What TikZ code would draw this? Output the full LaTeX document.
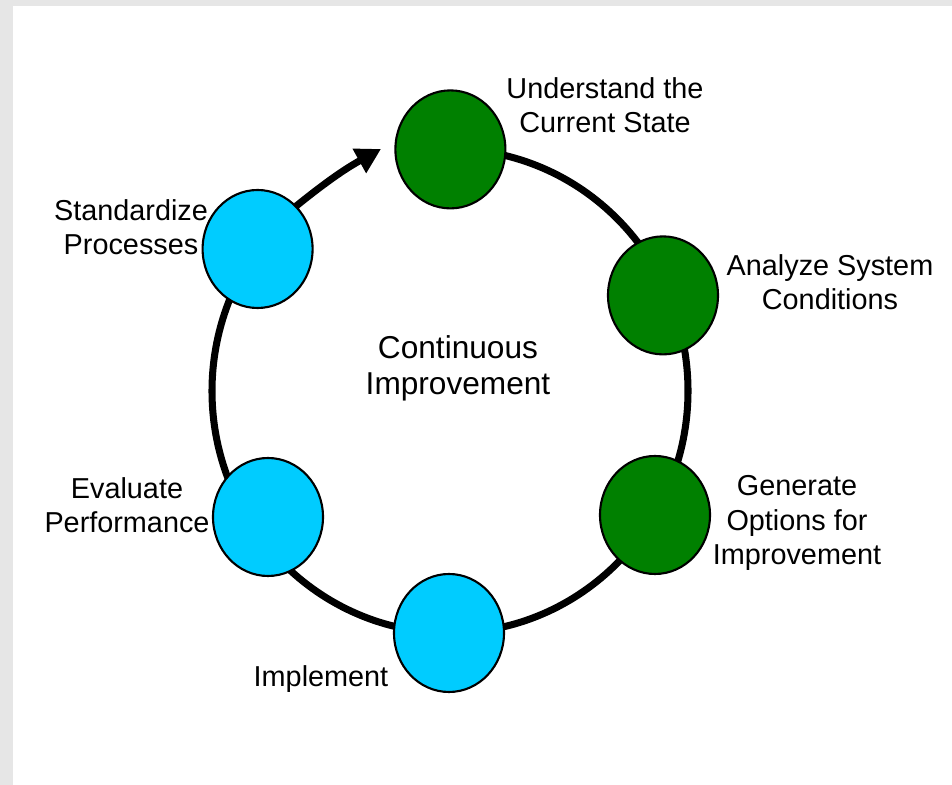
\documentclass[tikz,border=0pt]{standalone}
\usepackage{fontspec}
\setmainfont{Liberation Sans}
\usetikzlibrary{arrows.meta, shapes.geometric}
\definecolor{stepgreen}{RGB}{0,128,0}
\definecolor{stepblue}{RGB}{0,204,255}
\definecolor{framegray}{RGB}{230,230,230}
\begin{document}
\begin{tikzpicture}[
	stepnode/.style={ellipse, draw=black, line width=1.5pt, minimum width=2.75cm, minimum height=2.95cm, inner sep=0pt},
	greenstep/.style={stepnode, fill=stepgreen},
	bluestep/.style={stepnode, fill=stepblue},
	labeltext/.style={align=center, font=\fontsize{20.5}{24.5}\selectfont},
	ring/.style={line width=5pt}]
\fill[framegray] (0, 0) rectangle (23.8, 19.625);
\fill[white] (0.325, 0) rectangle (23.8, 19.475);
\useasboundingbox (0, 0) rectangle (23.8, 19.625);

\draw[ring] (11.25, 15.9) arc[start angle=90, end angle=-230, x radius=5.95, y radius=6.05];

\node[greenstep] (s1) at (11.26, 15.89) {};
\node[greenstep] (s2) at (16.575, 12.24) {};
\node[greenstep] (s3) at (16.375, 6.75) {};
\node[bluestep] (s4) at (11.225, 3.8) {};
\node[bluestep] (s5) at (6.7, 6.7) {};
\node[bluestep] (s6) at (6.44, 13.4) {};

\coordinate (tip) at (9.525, 15.9);
\draw[ring, -{Triangle[length=0.62cm, width=0.66cm]}] (s6.48) to[bend left=5] (tip);

\node[labeltext] (l1) at (15.125, 17.0) {Understand the\\Current State};
\node[labeltext] (l2) at (20.75, 12.575) {Analyze System\\Conditions};
\node[labeltext] (l3) at (19.925, 6.55) {Generate\\Options for\\Improvement};
\node[labeltext] (l4) at (8.025, 2.65) {Implement};
\node[labeltext] (l5) at (3.175, 7.0) {Evaluate\\Performance};
\node[labeltext] (l6) at (3.275, 13.95) {Standardize\\Processes};

\node[align=center, font=\fontsize{22.5}{25.5}\selectfont] (c) at (11.45, 10.425) {Continuous\\Improvement};
\end{tikzpicture}
\end{document}
